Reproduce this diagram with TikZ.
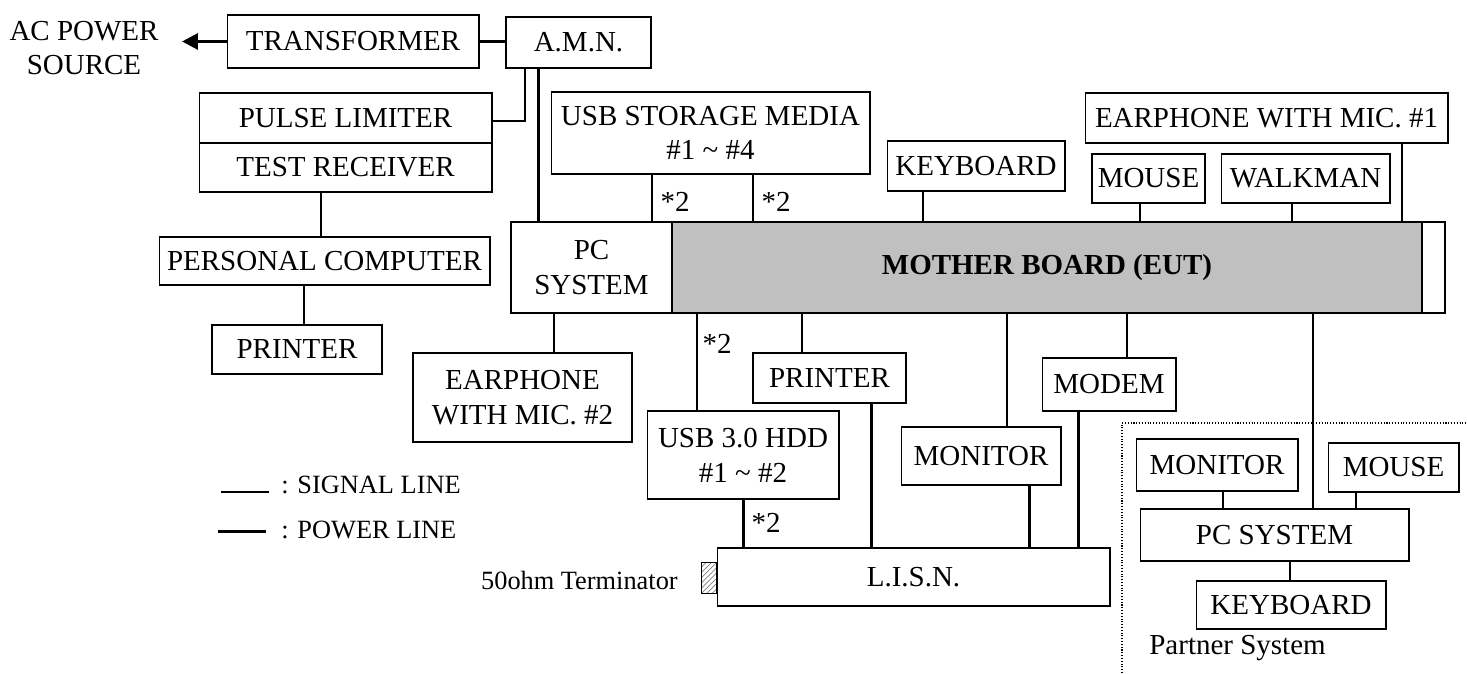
\documentclass[tikz,border=0pt]{standalone}
\usepackage{fontspec}
\setmainfont{Liberation Serif}
\usetikzlibrary{arrows.meta,patterns}
\definecolor{boardgray}{RGB}{192,192,192}

\begin{document}
\begin{tikzpicture}[x=0.02cm,y=-0.02cm]
  \tikzstyle{txt}=[font=\fontsize{16.5}{19.8}\selectfont,align=center,inner sep=0pt]
  \tikzstyle{small}=[font=\fontsize{15}{18}\selectfont,inner sep=0pt]
  \tikzstyle{unit}=[draw,line width=.6pt,txt]
  \tikzstyle{sig}=[draw,line width=.6pt]
  \tikzstyle{pwr}=[draw,line width=1.7pt]
  \useasboundingbox (0,0) rectangle (1467,673);
  % left side: measuring set
  \node[txt] (acsrc) at (84,48) {AC POWER\\SOURCE};
  \coordinate (tip) at (182,41.5);
  \node[unit,minimum width=5.04cm,minimum height=1.06cm] (trans) at (353,41.5) {TRANSFORMER};
  \node[unit,minimum width=2.9cm,minimum height=1.02cm] (amn) at (578.5,42.5) {A.M.N.};
  \node[unit,minimum width=5.86cm,minimum height=1cm] (pulse) at (345.5,118) {PULSE LIMITER};
  \node[unit,minimum width=5.86cm,minimum height=.98cm] (testrx) at (345.5,167.5) {TEST RECEIVER};
  \node[unit,minimum width=6.62cm,minimum height=.96cm] (pc) at (324.5,261) {PERSONAL COMPUTER};
  \node[unit,minimum width=3.4cm,minimum height=.98cm] (prnleft) at (297,349.5) {PRINTER};
  % top row
  \node[unit,minimum width=6.38cm,minimum height=1.64cm] (usbmedia) at (710.5,133) {USB STORAGE MEDIA\\\#1 \textasciitilde{} \#4};
  \node[unit,minimum width=3.56cm,minimum height=1cm] (kbd) at (976,166) {KEYBOARD};
  \node[unit,minimum width=7.26cm,minimum height=1cm] (ear1) at (1266.5,118) {EARPHONE WITH MIC. \#1};
  \node[unit,minimum width=2.26cm,minimum height=.98cm] (mouse) at (1148.5,178.5) {MOUSE};
  \node[unit,minimum width=3.38cm,minimum height=.98cm] (walkman) at (1305.5,178.5) {WALKMAN};
  % eut
  \node[unit,minimum width=3.22cm,minimum height=1.82cm] (pcsys) at (591.5,267.5) {PC\\SYSTEM};
  \node[unit,fill=boardgray,font=\fontsize{16.5}{19.8}\selectfont\bfseries,minimum width=15cm,minimum height=1.82cm] (mb) at (1047,267.5) {MOTHER BOARD (EUT)};
  \node[unit,minimum width=.46cm,minimum height=1.82cm] (mbend) at (1433.5,267.5) {};
  % bottom row
  \node[unit,minimum width=4.38cm,minimum height=1.78cm] (ear2) at (522.5,397.5) {EARPHONE\\WITH MIC. \#2};
  \node[unit,minimum width=3.06cm,minimum height=1cm] (prnmid) at (829.5,378) {PRINTER};
  \node[unit,minimum width=3.84cm,minimum height=1.76cm] (hdd) at (743,455) {USB 3.0 HDD\\\#1 \textasciitilde{} \#2};
  \node[unit,minimum width=3.2cm,minimum height=1.16cm] (mon) at (981,456) {MONITOR};
  \node[unit,minimum width=2.68cm,minimum height=1.06cm] (modem) at (1109,384.5) {MODEM};
  \node[unit,minimum width=7.86cm,minimum height=1.16cm] (lisn) at (913.5,577) {L.I.S.N.};
  \node[draw,line width=.4pt,pattern=north east lines,pattern color=gray,minimum width=.3cm,minimum height=.62cm,inner sep=0pt] (term) at (708.5,577.5) {};
  \node[small,anchor=east] (termtxt) at (678,580) {50ohm Terminator};
  % partner system
  \node[unit,minimum width=3.24cm,minimum height=1.04cm] (pmon) at (1217,465) {MONITOR};
  \node[unit,minimum width=2.62cm,minimum height=.98cm] (pmouse) at (1393.5,467.5) {MOUSE};
  \node[unit,minimum width=5.38cm,minimum height=1.04cm] (ppc) at (1274.5,535) {PC SYSTEM};
  \node[unit,minimum width=3.8cm,minimum height=.96cm] (pkbd) at (1291,605) {KEYBOARD};
  \node[txt,anchor=west] (partner) at (1149,648) {Partner System};
  \draw[densely dotted,line width=.6pt] (1122,673) |- (1467,423);
  % legend
  \coordinate (sigA) at (221,492);
  \coordinate (pwrA) at (218,531);
  \node[small,anchor=west] (sigtxt) at (281,485) {: SIGNAL LINE};
  \node[small,anchor=west] (pwrtxt) at (281,530) {: POWER LINE};
  \draw[sig] (sigA) -- ++(48,0);
  \draw[pwr] (pwrA) -- ++(48,0);
  % *2 marks
  \node[txt] (n1) at (675,202) {*2};
  \node[txt] (n2) at (776,202) {*2};
  \node[txt] (n3) at (717,344) {*2};
  \node[txt] (n4) at (766,523) {*2};
  % connections
  \draw[pwr,-{Triangle[length=9pt,width=9pt]}] (trans.west) -- (tip);
  \draw[pwr] (trans.east) -- (amn.west |- trans.east);
  \draw[sig] (amn.south -| 525,0) |- (pulse.east |- 0,121);
  \draw[pwr] (amn.south -| 538,0) -- (pcsys.north -| 538,0);
  \draw[sig] (testrx.south -| 321,0) -- (pc.north -| 321,0);
  \draw[sig] (pc.south -| 304,0) -- (prnleft.north -| 304,0);
  \draw[sig] (usbmedia.south -| 652,0) -- (pcsys.north -| 652,0);
  \draw[sig] (usbmedia.south -| 753,0) -- (mb.north -| 753,0);
  \foreach \n/\x in {kbd/923,mouse/1140,walkman/1292,ear1/1402}
    \draw[sig] (\n.south -| \x,0) -- (mb.north -| \x,0);
  \draw[sig] (pcsys.south -| 554,0) -- (ear2.north -| 554,0);
  \foreach \n/\x in {hdd/697,prnmid/802,mon/1007,modem/1127,ppc/1313}
    \draw[sig] (mb.south -| \x,0) -- (\n.north -| \x,0);
  \foreach \n/\x in {hdd/743,prnmid/871,mon/1029,modem/1078}
    \draw[pwr] (\n.south -| \x,0) -- (lisn.north -| \x,0);
  \draw[sig] (pmon.south -| 1223,0) -- (ppc.north -| 1223,0);
  \draw[sig] (pmouse.south -| 1356,0) -- (ppc.north -| 1356,0);
  \draw[sig] (ppc.south -| 1290,0) -- (pkbd.north -| 1290,0);
\end{tikzpicture}
\end{document}
